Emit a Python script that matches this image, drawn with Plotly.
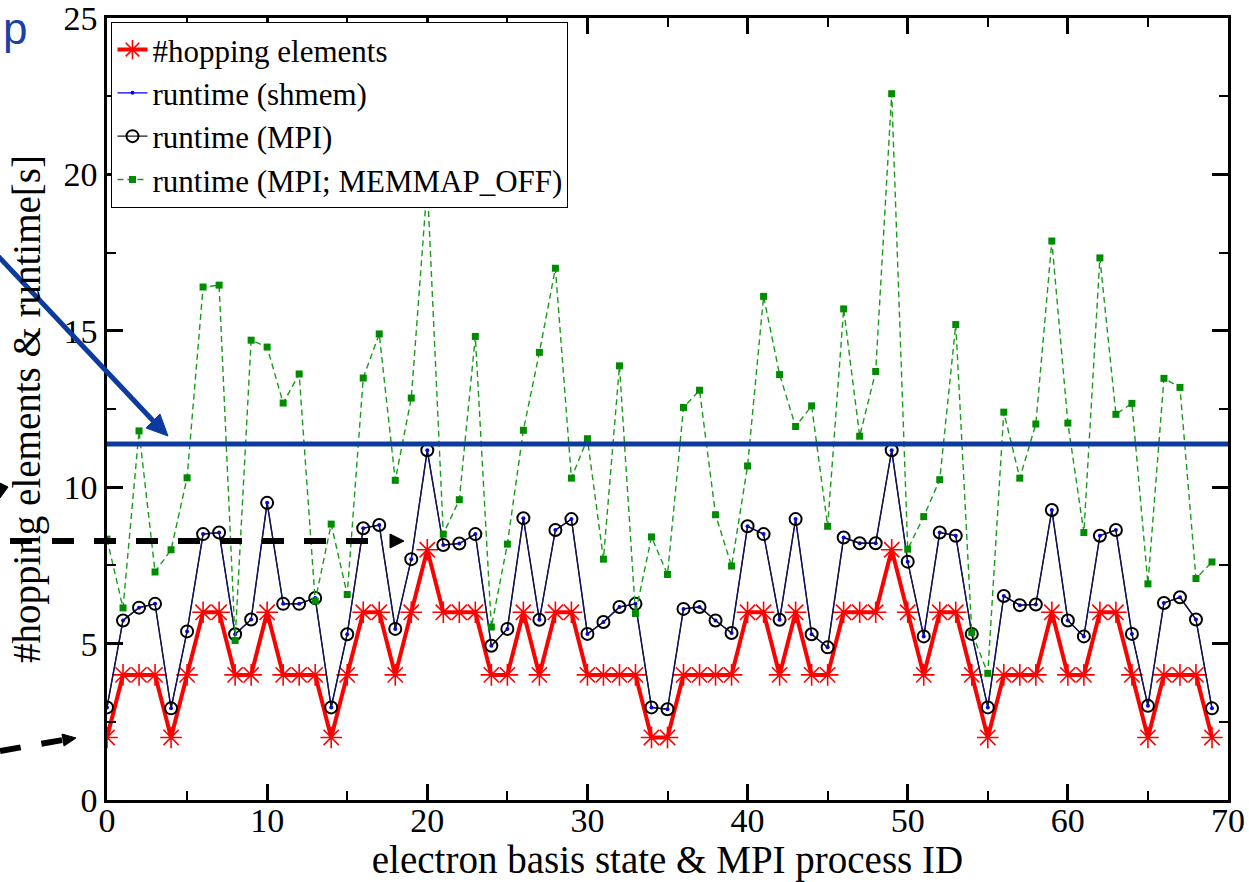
import plotly.graph_objects as go

# ---------------- data ----------------
process_id = list(range(70))

hopping_elements = [2, 4, 4, 4, 2, 4, 6, 6, 4, 4,
                    6, 4, 4, 4, 2, 4, 6, 6, 4, 6,
                    8, 6, 6, 6, 4, 4, 6, 4, 6, 6,
                    4, 4, 4, 4, 2, 2, 4, 4, 4, 4,
                    6, 6, 4, 6, 4, 4, 6, 6, 6, 8,
                    6, 4, 6, 6, 4, 2, 4, 4, 4, 6,
                    4, 4, 6, 6, 4, 2, 4, 4, 4, 2]

runtime_mpi = [2.96, 5.74, 6.15, 6.27, 2.93, 5.39, 8.50, 8.55, 5.30, 5.77,
               9.50, 6.27, 6.27, 6.46, 2.96, 5.30, 8.69, 8.79, 5.47, 7.70,
               11.18, 8.15, 8.20, 8.50, 4.93, 5.47, 9.01, 5.76, 8.63, 8.98,
               5.31, 5.69, 6.17, 6.27, 2.96, 2.90, 6.11, 6.17, 5.74, 5.34,
               8.75, 8.50, 5.76, 8.98, 5.30, 4.88, 8.39, 8.21, 8.21, 11.18,
               7.62, 5.23, 8.55, 8.45, 5.31, 2.96, 6.52, 6.23, 6.25, 9.27,
               5.74, 5.23, 8.45, 8.63, 5.31, 3.01, 6.30, 6.48, 5.77, 2.93]

runtime_shmem = [2.96, 5.74, 6.15, 6.27, 2.93, 5.39, 8.50, 8.55, 5.30, 5.77,
                 9.50, 6.27, 6.27, 6.46, 2.96, 5.30, 8.69, 8.79, 5.47, 7.70,
                 11.18, 8.15, 8.20, 8.50, 4.93, 5.47, 9.01, 5.76, 8.63, 8.98,
                 5.31, 5.69, 6.17, 6.27, 2.96, 2.90, 6.11, 6.17, 5.74, 5.34,
                 8.75, 8.50, 5.76, 8.98, 5.30, 4.88, 8.39, 8.21, 8.21, 11.18,
                 7.62, 5.23, 8.55, 8.45, 5.31, 2.96, 6.52, 6.23, 6.25, 9.27,
                 5.74, 5.23, 8.45, 8.63, 5.31, 3.01, 6.30, 6.48, 5.77, 2.93]

runtime_mpi_memmap_off = [8.34, 6.14, 11.80, 7.29, 8.00, 10.30, 16.40, 16.46, 5.10, 14.70,
                          14.48, 12.69, 13.62, 6.36, 8.82, 6.57, 13.49, 14.90, 10.22, 12.85,
                          19.70, 8.50, 9.60, 14.82, 5.53, 8.18, 11.82, 14.31, 17.00, 10.29,
                          11.55, 7.70, 13.88, 5.96, 8.41, 7.21, 12.55, 13.10, 9.12, 7.48,
                          10.68, 16.10, 13.60, 11.94, 12.60, 8.75, 15.70, 11.63, 13.70, 22.58,
                          8.02, 9.06, 10.24, 15.20, 5.36, 4.05, 12.40, 10.29, 12.02, 17.87,
                          12.05, 8.55, 17.33, 12.33, 12.68, 6.91, 13.48, 13.19, 7.08, 7.61]

highlight_level = 11.38   # thick blue slide-annotation line

# ---------------- layout geometry ----------------
W, H = 1249, 882
L, R, T, B = 107, 1228, 18, 800
SERIF = "Liberation Serif"


def px(p):
    return (p - L) / (R - L)


def py(p):
    return (B - p) / (B - T)


fig = go.Figure()

fig.add_trace(go.Scatter(
    x=process_id, y=hopping_elements, name="#hopping elements",
    mode="lines+markers",
    line=dict(color="#ff0000", width=4),
    marker=dict(symbol="asterisk-open", size=18, color="#ff0000",
                line=dict(color="#ff0000", width=1.6)),
))
fig.add_trace(go.Scatter(
    x=process_id, y=runtime_shmem, name="runtime (shmem)",
    mode="lines+markers",
    line=dict(color="#0000ff", width=1.4),
    marker=dict(symbol="circle", size=4, color="#0000ff"),
))
fig.add_trace(go.Scatter(
    x=process_id, y=runtime_mpi, name="runtime (MPI)",
    mode="lines+markers",
    line=dict(color="#1a1a1a", width=1.2),
    marker=dict(symbol="circle-open", size=12, color="#000000",
                line=dict(color="#000000", width=2)),
))
fig.add_trace(go.Scatter(
    x=process_id, y=runtime_mpi_memmap_off, name="runtime (MPI; MEMMAP_OFF)",
    mode="lines+markers",
    line=dict(color="#1a9a1a", width=1.4, dash="6px,4px"),
    marker=dict(symbol="square", size=7, color="#008c00"),
))

axis_common = dict(
    showline=True, linewidth=2.5, linecolor="black", mirror="allticks",
    ticks="inside", ticklen=16, tickwidth=2.5, tickcolor="black",
    showgrid=False, zeroline=False, automargin=False,
    ticklabeloverflow="allow",
    tickfont=dict(family=SERIF, size=34, color="black"),
)

fig.update_xaxes(
    range=[0, 70], tickmode="linear", tick0=0, dtick=10,
    minor=dict(dtick=5, ticks="inside", ticklen=9, tickwidth=2, tickcolor="black"),
    ticklabelstandoff=-12,
    title=dict(text="electron basis state & MPI process ID", standoff=2,
               font=dict(family=SERIF, size=39, color="black")),
    **axis_common,
)
fig.update_yaxes(
    range=[0, 25], tickmode="linear", tick0=0, dtick=5,
    minor=dict(dtick=2.5, ticks="inside", ticklen=9, tickwidth=2, tickcolor="black"),
    title=dict(text="#hopping elements & runtime[s]", standoff=11,
               font=dict(family=SERIF, size=39, color="black")),
    **axis_common,
)

shapes = []
# thick blue horizontal highlight line
shapes.append(dict(type="line", xref="paper", yref="y", x0=0, x1=1,
                   y0=highlight_level, y1=highlight_level,
                   line=dict(color="#0d3a9e", width=5), layer="above"))
# blue arrow shaft
shapes.append(dict(type="line", xref="paper", yref="paper",
                   x0=px(-2), y0=py(256), x1=px(158), y1=py(426),
                   line=dict(color="#0d3a9e", width=5), layer="above"))
# blue arrow head
shapes.append(dict(type="path", xref="paper", yref="paper",
                   path=f"M {px(168)},{py(436)} L {px(146)},{py(428)} L {px(160)},{py(414)} Z",
                   fillcolor="#0d3a9e", line=dict(color="#0d3a9e", width=1), layer="above"))
# black dashed arrow (upper)
shapes.append(dict(type="line", xref="paper", yref="paper",
                   x0=px(10), y0=py(541), x1=px(380), y1=py(541),
                   line=dict(color="black", width=6, dash="22px,20px"), layer="above"))
shapes.append(dict(type="path", xref="paper", yref="paper",
                   path=f"M {px(404)},{py(541)} L {px(390)},{py(534)} L {px(390)},{py(548)} Z",
                   fillcolor="black", line=dict(color="black", width=1), layer="above"))
# black dashed arrow (lower)
shapes.append(dict(type="line", xref="paper", yref="paper",
                   x0=px(0), y0=py(751), x1=px(63), y1=py(740),
                   line=dict(color="black", width=6, dash="21px,21px"), layer="above"))
shapes.append(dict(type="path", xref="paper", yref="paper",
                   path=f"M {px(76)},{py(738)} L {px(62)},{py(734)} L {px(64)},{py(746)} Z",
                   fillcolor="black", line=dict(color="black", width=1), layer="above"))
# partial arrow head at far left
shapes.append(dict(type="path", xref="paper", yref="paper",
                   path=f"M {px(0)},{py(483)} L {px(8)},{py(487)} L {px(0)},{py(498)} Z",
                   fillcolor="black", line=dict(color="black", width=1), layer="above"))

annotations = [dict(
    text="p", xref="paper", yref="paper", x=px(2), y=py(3),
    xanchor="left", yanchor="top", showarrow=False, borderpad=0,
    font=dict(family="Liberation Sans", size=44, color="#1c3fa8"),
)]

fig.update_layout(
    width=W, height=H,
    margin=dict(l=L, r=W - R, t=T, b=H - B, pad=0, autoexpand=False),
    paper_bgcolor="white", plot_bgcolor="white",
    shapes=shapes, annotations=annotations,
    legend=dict(
        x=0.004, y=0.995, xanchor="left", yanchor="top",
        bgcolor="white", bordercolor="black", borderwidth=1,
        font=dict(family=SERIF, size=31, color="black"),
        itemwidth=30, tracegroupgap=0,
    ),
    showlegend=True,
)

fig.write_html("out.html", config={"displayModeBar": False},
               post_script="document.body.style.margin='0';")
